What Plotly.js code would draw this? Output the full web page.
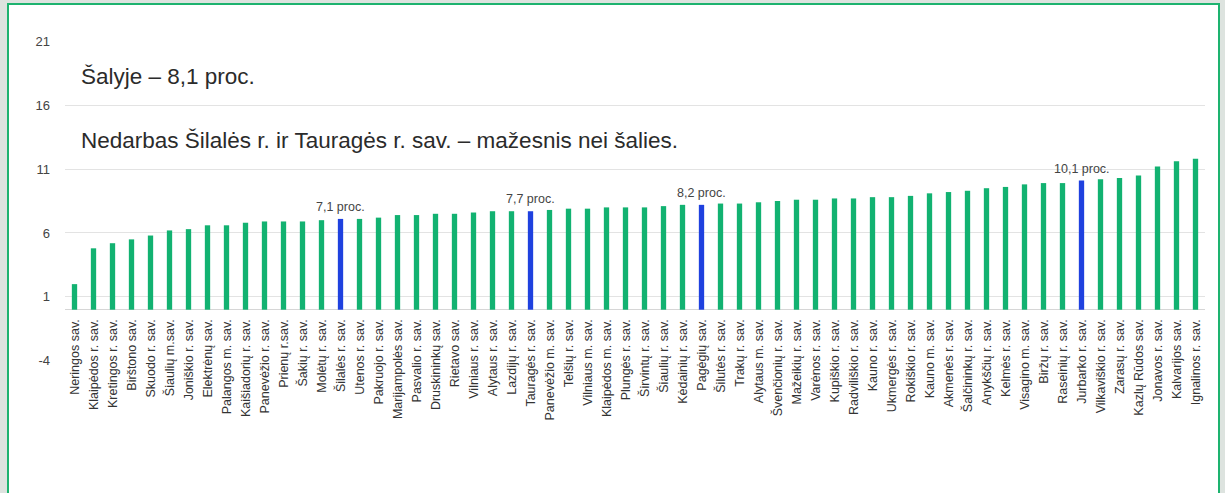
<!DOCTYPE html>
<html>
<head>
<meta charset="utf-8">
<script src="https://cdn.plot.ly/plotly-3.0.1.min.js"></script>
<style>
  html, body { margin: 0; padding: 0; width: 1225px; height: 493px; overflow: hidden; background: #dde3df; }
  #frame { position: absolute; left: 7px; top: 3px; width: 1209px; height: 500px; background: #ffffff; border: 2px solid #1db36f; }
  #chart { position: absolute; left: 0; top: 0; width: 1225px; height: 493px; }
</style>
</head>
<body>
<div id="frame"></div>
<div id="chart"></div>
<script>
const categories = [
  'Neringos sav.', 'Klaipėdos r. sav.', 'Kretingos r. sav.', 'Birštono sav.', 'Skuodo r. sav.',
  'Šiaulių m.sav.', 'Joniškio r. sav.', 'Elektrėnų sav.', 'Palangos m. sav.', 'Kaišiadorių r. sav.',
  'Panevėžio r. sav.', 'Prienų r.sav.', 'Šakių r. sav.', 'Molėtų r. sav.', 'Šilalės r. sav.',
  'Utenos r. sav.', 'Pakruojo r. sav.', 'Marijampolės sav.', 'Pasvalio r. sav.', 'Druskininkų sav.',
  'Rietavo sav.', 'Vilniaus r. sav.', 'Alytaus r. sav.', 'Lazdijų r. sav.', 'Tauragės r. sav.',
  'Panevėžio m. sav.', 'Telšių r. sav.', 'Vilniaus m. sav.', 'Klaipėdos m. sav.', 'Plungės r. sav.',
  'Širvintų r. sav.', 'Šiaulių r. sav.', 'Kėdainių r. sav.', 'Pagėgių sav.', 'Šilutės r. sav.',
  'Trakų r. sav.', 'Alytaus m. sav.', 'Švenčionių r. sav.', 'Mažeikių r. sav.', 'Varėnos r. sav.',
  'Kupiškio r. sav.', 'Radviliškio r. sav.', 'Kauno r. sav.', 'Ukmergės r. sav.', 'Rokiškio r. sav.',
  'Kauno m. sav.', 'Akmenės r. sav.', 'Šalčininkų r. sav.', 'Anykščių r. sav.', 'Kelmės r. sav.',
  'Visagino m. sav.', 'Biržų r. sav.', 'Raseinių r. sav.', 'Jurbarko r. sav.', 'Vilkaviškio r. sav.',
  'Zarasų r. sav.', 'Kazlų Rūdos sav.', 'Jonavos r. sav.', 'Kalvarijos sav.', 'Ignalinos r. sav.'
];
const values = [
  2.0, 4.8, 5.2, 5.5, 5.8,
  6.2, 6.3, 6.6, 6.6, 6.8,
  6.9, 6.9, 6.9, 7.0, 7.1,
  7.1, 7.2, 7.4, 7.4, 7.5,
  7.5, 7.6, 7.7, 7.7, 7.7,
  7.8, 7.9, 7.9, 8.0, 8.0,
  8.0, 8.1, 8.2, 8.2, 8.3,
  8.3, 8.4, 8.5, 8.6, 8.6,
  8.7, 8.7, 8.8, 8.8, 8.9,
  9.1, 9.2, 9.3, 9.5, 9.6,
  9.8, 9.9, 9.9, 10.1, 10.2,
  10.3, 10.5, 11.2, 11.6, 11.8
];
const highlighted = ['Šilalės r. sav.', 'Tauragės r. sav.', 'Pagėgių sav.', 'Jurbarko r. sav.'];
const highlightLabels = ['7,1 proc.', '7,7 proc.', '8,2 proc.', '10,1 proc.'];
const yTickValues = [-4, 1, 6, 11, 16, 21];
const countryText = 'Šalyje – 8,1 proc.';
const noteText = 'Nedarbas Šilalės r. ir Tauragės r. sav. – mažesnis nei šalies.';
const countryTextY = 18.2;
const noteTextY = 13.2;

const GREEN = '#12b271';
const BLUE = '#1f41df';
const FONT = '"Liberation Sans", Arial, sans-serif';

const yMin = -4, yMax = 21;

const colors = categories.map(c => highlighted.includes(c) ? BLUE : GREEN);

const trace = {
  type: 'bar',
  x: categories,
  y: values,
  marker: { color: colors, line: { width: 0 } },
  hoverinfo: 'x+y'
};

const annotations = highlighted.map((c, i) => ({
  x: c,
  y: values[categories.indexOf(c)],
  xref: 'x', yref: 'y',
  text: highlightLabels[i],
  showarrow: false,
  yanchor: 'bottom',
  xanchor: 'center',
  yshift: 3,
  font: { family: FONT, size: 12.5, color: '#444444' }
}));

annotations.push({
  x: 0.0125, xref: 'paper', y: countryTextY, yref: 'y',
  text: countryText, showarrow: false, xanchor: 'left', yanchor: 'middle',
  font: { family: FONT, size: 22.5, color: '#2b2b2b' }
});
annotations.push({
  x: 0.0125, xref: 'paper', y: noteTextY, yref: 'y',
  text: noteText, showarrow: false, xanchor: 'left', yanchor: 'middle',
  font: { family: FONT, size: 22.5, color: '#2b2b2b' }
});

const layout = {
  width: 1225,
  height: 493,
  margin: { l: 65, r: 20, t: 41, b: 132, pad: 0 },
  paper_bgcolor: 'rgba(0,0,0,0)',
  plot_bgcolor: 'rgba(0,0,0,0)',
  showlegend: false,
  bargap: 0.72,
  xaxis: {
    type: 'category',
    anchor: 'free',
    position: (0 - yMin) / (yMax - yMin),
    tickangle: -90,
    showgrid: false,
    showline: false,
    ticks: '',
    ticklabelstandoff: 6,
    tickfont: { family: FONT, size: 12.5, color: '#333333' },
    fixedrange: true
  },
  yaxis: {
    range: [yMin - 0.01, yMax + 0.01],
    tickvals: yTickValues,
    ticktext: yTickValues.map(v => String(v)),
    showgrid: true,
    gridcolor: '#e3e3e3',
    gridwidth: 1,
    zeroline: true,
    zerolinecolor: '#d6d6d6',
    zerolinewidth: 1,
    showline: false,
    ticks: '',
    ticklabelstandoff: 14,
    tickfont: { family: FONT, size: 13, color: '#444444' },
    fixedrange: true
  },
  annotations: annotations
};

Plotly.newPlot('chart', [trace], layout, { displayModeBar: false, staticPlot: true });
</script>
</body>
</html>
